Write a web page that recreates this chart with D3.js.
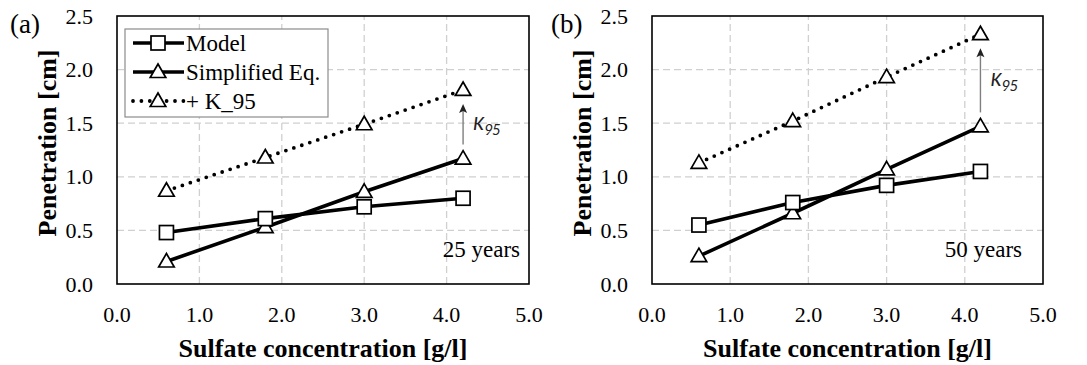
<!DOCTYPE html>
<html>
<head>
<meta charset="utf-8">
<script src="https://cdn.jsdelivr.net/npm/d3@7"></script>
<style>
  body { margin: 0; background: #fff; }
</style>
</head>
<body>
<div class="layout"></div>
<script>
// sulfate concentrations [g/l]
var concentrations = [0.6, 1.8, 3.0, 4.2]

// panel (a): 25 years
var model25 = [0.48, 0.61, 0.72, 0.80]
var simplified25 = [0.21, 0.53, 0.86, 1.17]
var k95_25 = [0.87, 1.18, 1.49, 1.81]

// panel (b): 50 years
var model50 = [0.55, 0.76, 0.92, 1.05]
var simplified50 = [0.26, 0.66, 1.07, 1.47]
var k95_50 = [1.13, 1.52, 1.93, 2.33]

var xTicks = [0, 1, 2, 3, 4, 5]
var yTicks = [0, 0.5, 1, 1.5, 2, 2.5]
var seriesNames = ["Model", "Simplified Eq.", "+ K_95"]

var width = 1087
var height = 365
var serif = "'Liberation Serif'"

var svg = d3.select("div.layout")
  .append("svg")
  .attr("width", width)
  .attr("height", height)

// every text gets the serif face
function txt (sel) {
  return sel.append("text").style("font-family", serif)
}

function makePanel (opts) {
  var x = d3.scaleLinear().domain([0, 5]).range([opts.left, opts.right])
  var y = d3.scaleLinear().domain([0, 2.5]).range([284, 16])

  var g = svg.append("g")

  // grid
  g.selectAll("line.vgrid")
    .data(xTicks.slice(1, -1))
    .enter()
    .append("line")
    .attr("x1", function (d) { return x(d) })
    .attr("x2", function (d) { return x(d) })
    .attr("y1", y(0))
    .attr("y2", y(2.5))
    .attr("stroke", "#d0d0d0")
    .attr("stroke-width", 1.3)
    .attr("stroke-dasharray", "7 4")

  g.selectAll("line.hgrid")
    .data(yTicks.slice(1, -1))
    .enter()
    .append("line")
    .attr("x1", x(0))
    .attr("x2", x(5))
    .attr("y1", function (d) { return y(d) })
    .attr("y2", function (d) { return y(d) })
    .attr("stroke", "#d0d0d0")
    .attr("stroke-width", 1.3)
    .attr("stroke-dasharray", "7 4")

  // plot box
  g.append("rect")
    .attr("x", x(0))
    .attr("y", y(2.5))
    .attr("width", x(5) - x(0))
    .attr("height", y(0) - y(2.5))
    .attr("fill", "none")
    .attr("stroke", "#000")
    .attr("stroke-width", 1.6)

  // tick labels
  g.selectAll("text.xtick")
    .data(xTicks)
    .enter()
    .append("text")
    .style("font-family", serif)
    .attr("x", function (d) { return x(d) })
    .attr("y", 322)
    .attr("text-anchor", "middle")
    .attr("font-size", 22)
    .text(function (d) { return d3.format(".1f")(d) })

  g.selectAll("text.ytick")
    .data(yTicks)
    .enter()
    .append("text")
    .style("font-family", serif)
    .attr("x", opts.left - 24)
    .attr("y", function (d) { return y(d) + 7.5 })
    .attr("text-anchor", "end")
    .attr("font-size", 22)
    .text(function (d) { return d3.format(".1f")(d) })

  // axis titles
  txt(g)
    .attr("x", (x(0) + x(5)) / 2)
    .attr("y", 357)
    .attr("text-anchor", "middle")
    .attr("font-size", 26)
    .attr("font-weight", "bold")
    .text("Sulfate concentration [g/l]")

  txt(g)
    .attr("transform", "translate(" + (opts.left - 61) + "," + 143 + ") rotate(-90)")
    .attr("text-anchor", "middle")
    .attr("font-size", 26)
    .attr("font-weight", "bold")
    .text("Penetration [cm]")

  txt(g)
    .attr("x", opts.tagX)
    .attr("y", 33)
    .attr("font-size", 27)
    .text(opts.tag)

  // K95 arrow
  var last = concentrations.length - 1
  var ax = x(concentrations[last])
  var tip = y(opts.k95[last]) + 14
  g.append("line")
    .attr("x1", ax)
    .attr("x2", ax)
    .attr("y1", y(opts.simplified[last]) - 14)
    .attr("y2", tip + 6)
    .attr("stroke", "#7f7f7f")
    .attr("stroke-width", 1.4)
  g.append("path")
    .attr("d", "M" + ax + "," + tip + "L" + (ax - 4) + "," + (tip + 9) + "L" + ax + "," + (tip + 7) + "L" + (ax + 4) + "," + (tip + 9) + "Z")
    .attr("fill", "#222")

  var kText = g.append("text")
    .attr("x", ax + 10)
    .attr("y", y((opts.simplified[last] + opts.k95[last]) / 2) + 6)
    .attr("font-size", 21)
    .attr("font-style", "italic")
    .attr("fill", "#222")
    .style("font-family", "Carlito")
  kText.append("tspan").text("K")
  kText.append("tspan").attr("font-size", 16).attr("dy", 5).text("95")

  // series lines
  var line = d3.line()
    .x(function (d, i) { return x(concentrations[i]) })
    .y(function (d) { return y(d) })

  g.append("path")
    .attr("d", line(opts.k95))
    .attr("fill", "none")
    .attr("stroke", "#000")
    .attr("stroke-width", 3.8)
    .attr("stroke-linecap", "round")
    .attr("stroke-dasharray", "0 8.4")

  g.append("path")
    .attr("d", line(opts.simplified))
    .attr("fill", "none")
    .attr("stroke", "#000")
    .attr("stroke-width", 3.6)

  g.append("path")
    .attr("d", line(opts.model))
    .attr("fill", "none")
    .attr("stroke", "#000")
    .attr("stroke-width", 3.6)

  // markers
  var tri = d3.symbol().type(d3.symbolTriangle).size(105)

  g.selectAll("path.triK")
    .data(opts.k95)
    .enter()
    .append("path")
    .attr("d", tri)
    .attr("transform", function (d, i) { return "translate(" + x(concentrations[i]) + "," + (y(d) + 1) + ")" })
    .attr("fill", "#fff")
    .attr("stroke", "#000")
    .attr("stroke-width", 1.7)

  g.selectAll("path.triS")
    .data(opts.simplified)
    .enter()
    .append("path")
    .attr("d", tri)
    .attr("transform", function (d, i) { return "translate(" + x(concentrations[i]) + "," + (y(d) + 1) + ")" })
    .attr("fill", "#fff")
    .attr("stroke", "#000")
    .attr("stroke-width", 1.7)

  g.selectAll("rect.sq")
    .data(opts.model)
    .enter()
    .append("rect")
    .attr("x", function (d, i) { return x(concentrations[i]) - 7 })
    .attr("y", function (d) { return y(d) - 7 })
    .attr("width", 14)
    .attr("height", 14)
    .attr("fill", "#fff")
    .attr("stroke", "#000")
    .attr("stroke-width", 1.7)

  // years note
  txt(g)
    .attr("x", opts.yearsX)
    .attr("y", 257)
    .attr("text-anchor", "end")
    .attr("font-size", 23)
    .text(opts.years)

  // legend
  if (opts.legend) {
    var lg = g.append("g").attr("transform", "translate(125,29)")
    lg.append("rect")
      .attr("width", 203)
      .attr("height", 88)
      .attr("fill", "#fff")
      .attr("stroke", "#8c8c8c")
      .attr("stroke-width", 1.2)

    seriesNames.forEach(function (name, i) {
      var ly = 14 + i * 29
      lg.append("line")
        .attr("x1", 8)
        .attr("x2", 59)
        .attr("y1", ly)
        .attr("y2", ly)
        .attr("stroke", "#000")
        .attr("stroke-width", i === 2 ? 3.8 : 3.6)
        .attr("stroke-linecap", i === 2 ? "round" : "butt")
        .attr("stroke-dasharray", i === 2 ? "0 8.4" : null)
      if (i === 0) {
        lg.append("rect")
          .attr("x", 26).attr("y", ly - 7)
          .attr("width", 14).attr("height", 14)
          .attr("fill", "#fff").attr("stroke", "#000").attr("stroke-width", 1.7)
      } else {
        lg.append("path")
          .attr("d", tri)
          .attr("transform", "translate(33," + (ly + 1) + ")")
          .attr("fill", "#fff").attr("stroke", "#000").attr("stroke-width", 1.7)
      }
      txt(lg)
        .attr("x", 61)
        .attr("y", ly + 8)
        .attr("font-size", 23)
        .text(name)
    })
  }
}

makePanel({ left: 117, right: 529, tag: "(a)", tagX: 10, years: "25 years", yearsX: 520,
  model: model25, simplified: simplified25, k95: k95_25, legend: true })
makePanel({ left: 652, right: 1043, tag: "(b)", tagX: 551, years: "50 years", yearsX: 1022,
  model: model50, simplified: simplified50, k95: k95_50, legend: false })
</script>
</body>
</html>
